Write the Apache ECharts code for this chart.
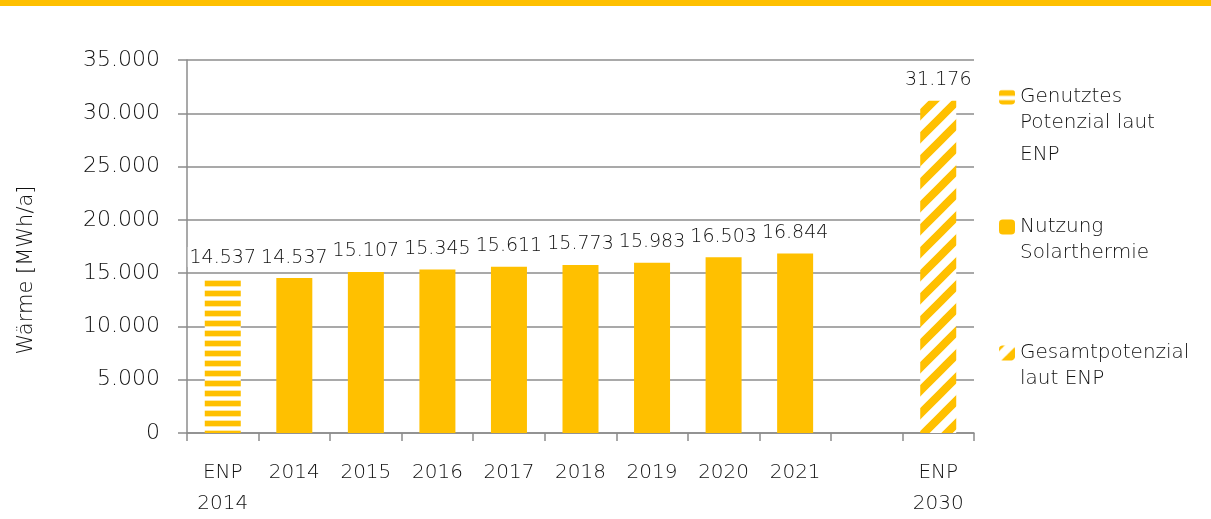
<!DOCTYPE html>
<html>
<head>
<meta charset="utf-8">
<script src="https://cdn.jsdelivr.net/npm/echarts@6/dist/echarts.min.js"></script>
<style>
  html, body { margin: 0; padding: 0; background: #fff; }
  #chart { width: 1211px; height: 519px; }
</style>
</head>
<body>
<div id="chart"></div>
<script>
// Kategorien (x-Achse)
const categories = ['ENP\n2014', '2014', '2015', '2016', '2017', '2018', '2019', '2020', '2021', '', 'ENP\n2030'];
// Werte in MWh/a
const genutztesPotenzial = [14537, '-', '-', '-', '-', '-', '-', '-', '-', '-', '-'];
const nutzungSolar = ['-', 14537, 15107, 15345, 15611, 15773, 15983, 16503, 16844, '-', '-'];
const gesamtPotenzial = ['-', '-', '-', '-', '-', '-', '-', '-', '-', '-', 31176];
const yTicks = [0, 5000, 10000, 15000, 20000, 25000, 30000, 35000];
// Legende: erste Zeile neben dem Symbol, Rest darunter
const legendNames = ['Genutztes Potenzial laut ENP', 'Nutzung Solarthermie', 'Gesamtpotenzial laut ENP'];
const legendLines = [['Genutztes', 'Potenzial laut', 'ENP'], ['Nutzung', 'Solarthermie'], ['Gesamtpotenzial', 'laut ENP']];

const YELLOW = '#FFC000';
const FONT = 'DejaVu Sans';
const WEIGHT = 200;

function fmt(v) {
  return String(v).replace(/\B(?=(\d{3})+(?!\d))/g, '.');
}

// Muster: waagrechte Streifen
function stripesH() {
  const c = document.createElement('canvas');
  c.width = 10; c.height = 10;
  const ctx = c.getContext('2d');
  ctx.fillStyle = '#fff';
  ctx.fillRect(0, 0, 10, 10);
  ctx.fillStyle = '#FFE9A6';
  ctx.fillRect(0, 0, 10, 1);
  ctx.fillRect(0, 6, 10, 1);
  ctx.fillStyle = YELLOW;
  ctx.fillRect(0, 1, 10, 5);
  return c;
}
// Muster: diagonale Streifen (/)
function stripesD() {
  const s = 23;
  const c = document.createElement('canvas');
  c.width = s; c.height = s;
  const ctx = c.getContext('2d');
  ctx.fillStyle = '#fff';
  ctx.fillRect(0, 0, s, s);
  ctx.strokeStyle = YELLOW;
  ctx.lineWidth = 8;
  ctx.beginPath();
  for (let k = -1; k <= 1; k++) {
    ctx.moveTo(k * s - s, 2 * s);
    ctx.lineTo(k * s + 2 * s, -s);
  }
  ctx.stroke();
  return c;
}

const chart = echarts.init(document.getElementById('chart'));

const txt = { fontFamily: FONT, fontWeight: WEIGHT, color: '#111' };

const labelCfg = Object.assign({}, txt, {
  show: true,
  position: 'top',
  distance: 11,
  fontSize: 19,
  backgroundColor: 'rgba(255,255,255,0.55)',
  padding: [1, 2, 0, 2],
  formatter: p => fmt(p.value)
});

// Legenden-Positionen (erste Zeile)
const legendTops = [76, 206, 332];
const LINE_H = 31.7;

const legends = legendNames.map((n, i) => ({
  orient: 'vertical',
  left: 994,
  top: legendTops[i],
  itemWidth: 16,
  itemHeight: 15,
  selectedMode: false,
  data: [n],
  formatter: name => legendLines[legendNames.indexOf(name)][0],
  textStyle: Object.assign({}, txt, { fontSize: 20, lineHeight: 32 })
}));

const legendExtra = [];
legendLines.forEach((lines, i) => {
  lines.slice(1).forEach((line, j) => {
    legendExtra.push({
      type: 'text', left: 1020, top: legendTops[i] + 5 + LINE_H * (j + 1),
      style: { text: line, font: WEIGHT + ' 20px "' + FONT + '"', fill: '#111' }
    });
  });
});

chart.setOption({
  animation: false,
  backgroundColor: '#fff',
  textStyle: { fontFamily: FONT },
  grid: { left: 187, right: 237, top: 60, bottom: 81 },
  graphic: [
    { type: 'rect', left: 0, top: 0, shape: { width: 1211, height: 6 }, style: { fill: YELLOW } },
    {
      type: 'text', x: 27, y: 270, rotation: Math.PI / 2,
      style: { text: 'Wärme [MWh/a]', font: WEIGHT + ' 21px "' + FONT + '"', fill: '#111', align: 'center', verticalAlign: 'middle' }
    }
  ].concat(legendExtra),
  legend: legends,
  xAxis: {
    type: 'category',
    data: categories,
    axisLine: { lineStyle: { color: '#8c8c8c', width: 1.5 } },
    axisTick: { show: true, length: 8, lineStyle: { color: '#8c8c8c', width: 1.5 } },
    axisLabel: Object.assign({}, txt, { margin: 24, fontSize: 20, lineHeight: 31, interval: 0 })
  },
  yAxis: {
    type: 'value',
    min: 0,
    max: 35000,
    interval: 5000,
    axisLine: { show: true, lineStyle: { color: '#8c8c8c', width: 1.5 } },
    axisTick: { show: true, length: 9, lineStyle: { color: '#8c8c8c', width: 1.5 } },
    splitLine: { lineStyle: { color: '#8c8c8c', width: 1.5 } },
    axisLabel: Object.assign({}, txt, {
      margin: 27, fontSize: 22,
      formatter: v => yTicks.indexOf(v) >= 0 ? fmt(v) : ''
    })
  },
  series: [
    {
      name: legendNames[0],
      type: 'bar', stack: 'a', barWidth: 36,
      data: genutztesPotenzial,
      itemStyle: { color: { image: stripesH(), repeat: 'repeat' } },
      label: labelCfg
    },
    {
      name: legendNames[1],
      type: 'bar', stack: 'a', barWidth: 36,
      data: nutzungSolar,
      itemStyle: { color: YELLOW },
      label: labelCfg
    },
    {
      name: legendNames[2],
      type: 'bar', stack: 'a', barWidth: 36,
      data: gesamtPotenzial,
      itemStyle: { color: { image: stripesD(), repeat: 'repeat' } },
      label: labelCfg
    }
  ]
});
</script>
</body>
</html>
